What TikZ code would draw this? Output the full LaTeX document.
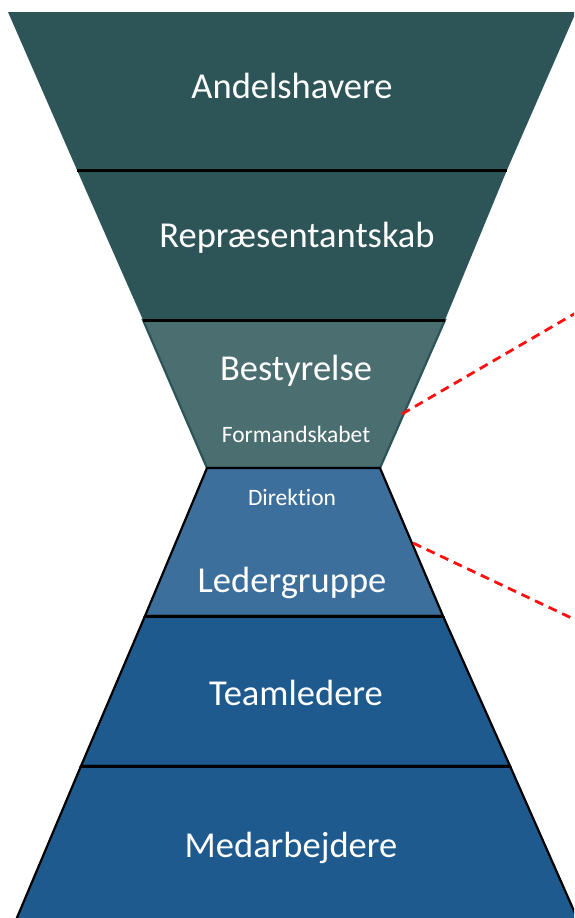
\documentclass[tikz,border=0pt]{standalone}
\usepackage{fontspec}
\setmainfont[Ligatures=NoCommon]{Carlito}
\definecolor{tealdark}{HTML}{2D5558}
\definecolor{tealmid}{HTML}{4B6E70}
\definecolor{bluemid}{HTML}{3D6F9D}
\definecolor{bluedark}{HTML}{1E5A8E}
\definecolor{reddash}{HTML}{FF1010}
\begin{document}
\begin{tikzpicture}[x=1pt,y=-1pt,
  bigtext/.style={text=white,anchor=base,inner sep=0pt,font=\fontsize{36.5}{40}\selectfont},
  smalltext/.style={text=white,anchor=base,inner sep=0pt,font=\fontsize{23.5}{26}\selectfont},
  divider/.style={black,line width=3pt},
  sideline/.style={line width=2.2pt,line join=miter},
  reddashed/.style={reddash,line width=2.8pt,dash pattern=on 9pt off 6pt}]
\useasboundingbox (0,0) rectangle (574,918);
\clip (0,0) rectangle (574,918);
% bands
\fill[tealdark] (8,12) -- (576,12) -- (507,170) -- (77,170) -- cycle;
\fill[tealdark] (77,170) -- (507,170) -- (445,320) -- (143,320) -- cycle;
\filldraw[fill=tealmid,draw=tealdark,sideline] (143,320) -- (445,320) -- (380,468) -- (207,468) -- cycle;
\filldraw[fill=bluemid,draw=black,sideline] (207,468) -- (380,468) -- (443,616) -- (145,616) -- cycle;
\filldraw[fill=bluedark,draw=black,sideline] (145,616) -- (443,616) -- (510,766) -- (81,766) -- cycle;
\filldraw[fill=bluedark,draw=black,sideline] (81,766) -- (510,766) -- (578,920) -- (16,920) -- cycle;
% dividers
\draw[divider] (77,170) -- (507,170);
\draw[divider] (143,320) -- (445,320);
\draw[black,line width=2.2pt] (207,468) -- (380,468);
\draw[divider] (145,616) -- (443,616);
\draw[divider] (81,766) -- (510,766);
% texts
\node[bigtext] (andel) at (292,98) {Andelshavere};
\node[bigtext] (repr) at (297,247) {Repræsentantskab};
\node[bigtext] (best) at (296,380) {Bestyrelse};
\node[smalltext] (form) at (296,442) {Formandskabet};
\node[smalltext] (dir) at (292,505) {Direktion};
\node[bigtext] (leder) at (292,592) {Ledergruppe};
\node[bigtext] (team) at (296,705) {Teamledere};
\node[bigtext] (medarb) at (291,857) {Medarbejdere};
% red dashed connectors
\coordinate (r1s) at (402,414);
\coordinate (r1e) at (580,310.5);
\coordinate (r2s) at (413,543);
\coordinate (r2e) at (580,622);
\draw[reddashed] (r1s) -- (r1e);
\draw[reddashed] (r2s) -- (r2e);
\end{tikzpicture}
\end{document}
